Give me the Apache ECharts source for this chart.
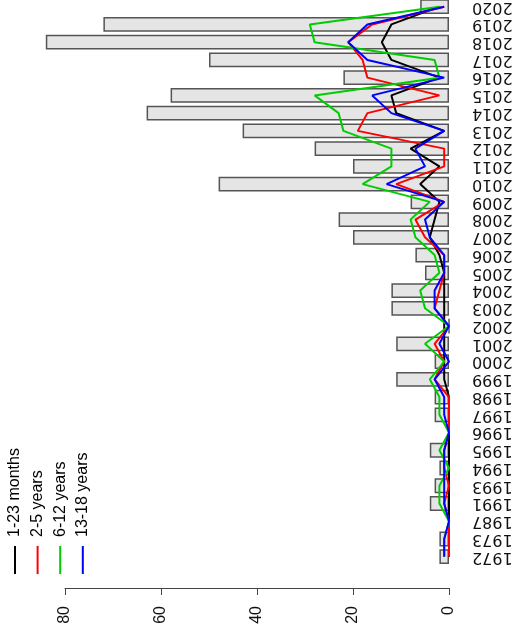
<!DOCTYPE html>
<html>
<head>
<meta charset="utf-8">
<script src="https://cdn.jsdelivr.net/npm/echarts@6/dist/echarts.min.js"></script>
<style>
html,body{margin:0;padding:0;background:#fff;}
#chart{width:512px;height:634px;}
</style>
</head>
<body>
<div id="chart"></div>
<script>
const years = ['1972','1973','1987','1991','1993','1994','1995','1996','1997','1998','1999','2000','2001','2002','2003','2004','2005','2006','2007','2008','2009','2010','2011','2012','2013','2014','2015','2016','2017','2018','2019','2020'];
const totals = [2,2,0,4,3,2,4,0,3,3,11,3,11,0,12,12,5,7,20,23,8,48,20,28,43,63,58,22,50,84,72,6];
const months1to23 = [0,0,0,0,0,0,0,0,0,0,1,1,1,1,1,1,1,2,4,3,2,6,2,8,1,11,12,2,12,14,12,2];
const years2to5 = [0,0,0,1,0,1,1,0,0,0,3,1,3,0,3,2,1,1,5,7,1,11,1,1,19,17,2,17,18,21,16,1];
const years6to12 = [1,1,0,2,2,0,2,0,2,2,4,1,5,0,5,6,2,3,7,8,4,18,12,12,22,23,28,2,3,28,29,2];
const years13to18 = [1,1,0,1,1,1,1,0,1,1,3,0,2,0,3,3,1,1,4,5,1,13,5,7,1,12,16,1,17,21,17,1];
const seriesNames = ['1-23 months','2-5 years','6-12 years','13-18 years'];
const seriesColors = ['#000000','#ff0000','#00cd00','#0000ff'];
const valueTicks = [0,20,40,60,80];

const FONT = 'Liberation Sans, Arial, Helvetica, sans-serif';
const YFONT = 'DejaVu Sans, Liberation Sans, sans-serif';
const chart = echarts.init(document.getElementById('chart'), null, {renderer:'canvas'});

const lineData = [months1to23, years2to5, years6to12, years13to18];
const lineSeries = lineData.map((d,i)=>({
  type:'line', name:seriesNames[i], data:d, showSymbol:false, symbol:'none',
  lineStyle:{color:seriesColors[i], width:2}, itemStyle:{color:seriesColors[i]},
  z:3+i, animation:false, clip:false
}));

const legendItems = seriesNames.map((n,i)=>({
  type:'group', x:15 + i*22.6, y:574, rotation:Math.PI/2,
  children:[
    {type:'line', shape:{x1:0,y1:0,x2:28,y2:0}, style:{stroke:seriesColors[i], lineWidth:2}},
    {type:'text', x:37, y:0, style:{text:n, fill:'#000', font:'16px '+FONT, textVerticalAlign:'middle', textAlign:'left'}}
  ]
}));

chart.setOption({
  animation:false,
  grid:{left:65, right:63, top:-2.2, bottom:68.4, containLabel:false, outerBoundsMode:'none'},
  xAxis:{
    type:'value', inverse:true, min:valueTicks[0], max:valueTicks[valueTicks.length-1], interval:20,
    position:'bottom', offset:22.4,
    axisLine:{show:true, lineStyle:{color:'#444', width:1}},
    axisTick:{show:true, length:7, lineStyle:{color:'#444', width:1}},
    splitLine:{show:false},
    axisLabel:{rotate:90, margin:18, color:'#111', fontSize:16, fontFamily:FONT}
  },
  yAxis:{
    type:'category', data:years, position:'right', boundaryGap:true,
    axisLine:{show:false}, axisTick:{show:false}, splitLine:{show:false},
    axisLabel:{rotate:180, margin:23, color:'#111', fontSize:16, fontFamily:YFONT, interval:0}
  },
  series:[
    {type:'bar', name:'total', data:totals, barCategoryGap:'16.67%', clip:false, z:2,
     itemStyle:{color:'#e5e5e5', borderColor:'#555', borderWidth:1.5}},
    ...lineSeries
  ],
  graphic:legendItems
});
</script>
</body>
</html>
